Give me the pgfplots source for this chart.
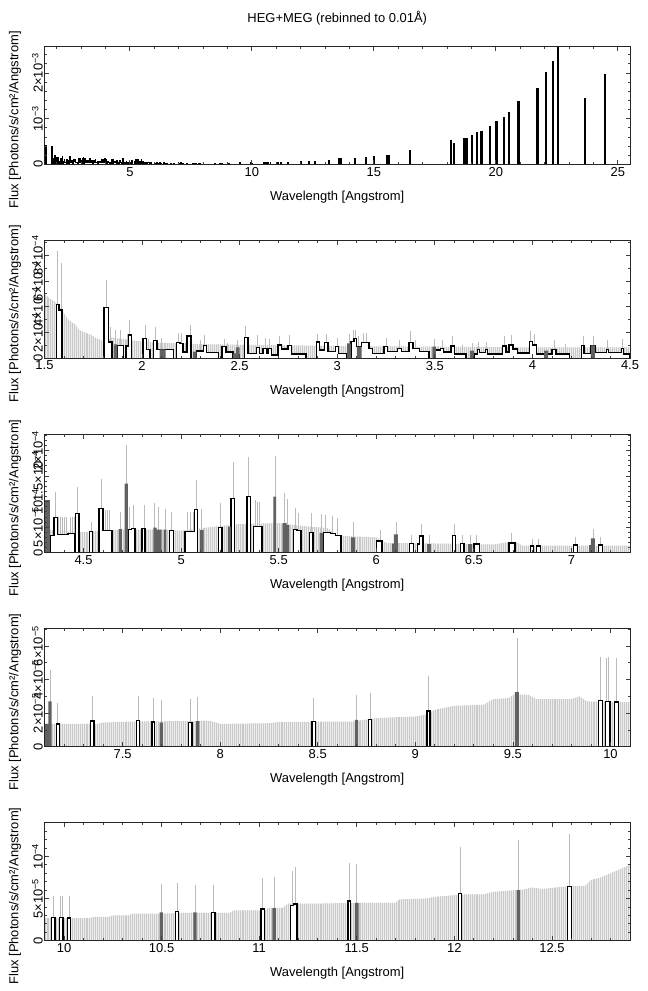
\documentclass[border=0pt]{standalone}
\usepackage{fontspec}
\setmainfont{Liberation Sans}
\usepackage{pgfplots}
\usepackage{pgfplotstable}
\pgfplotsset{compat=1.18}
\usetikzlibrary{patterns.meta}

% ---------- Panel 2 (1.5-4.5 A), values in 1e-5 ----------
\pgfplotstableread{
x y
1.50 0
1.56 42
1.575 37.5
1.59 0
1.805 39.3
1.827 12.7
1.845 0
1.873 10.1
1.904 0
1.918 9.6
1.93 18.1
1.947 0
2.004 15.2
2.024 7
2.04 0
2.06 14
2.077 7
2.16 0
2.178 12.1
2.195 11.6
2.21 5
2.23 17.3
2.25 0
2.28 5.7
2.315 9.8
2.33 4.4
2.39 0
2.41 9.3
2.43 4.9
2.465 0
2.525 16.3
2.543 3.9
2.585 8.3
2.60 3.9
2.62 7.5
2.637 3.5
2.645 7.5
2.662 2.6
2.697 10.3
2.714 7.2
2.748 10
2.765 3.4
2.84 0
2.893 12.6
2.91 6.5
2.936 12.1
2.953 5.2
2.99 9
3.005 3.9
3.05 0
3.07 12.9
3.085 15.5
3.10 9
3.125 12.4
3.163 7.7
3.18 3.9
3.24 9
3.257 5.2
3.31 7.7
3.33 5.2
3.368 12.1
3.389 7.7
3.42 5.2
3.47 0
3.505 6.5
3.53 7.7
3.545 5
3.582 9.5
3.60 3.4
3.66 0
3.70 3.4
3.72 7
3.73 4.4
3.76 7
3.77 3.4
3.848 9.5
3.865 5
3.88 10.3
3.90 7.2
3.925 4
3.985 12.9
4.00 10.3
4.02 3.4
4.10 7
4.12 3.4
4.19 0
4.25 10
4.264 3.9
4.30 10
4.32 4.4
4.38 7
4.39 4.4
4.455 7.7
4.468 3.4
4.50 0
}\ptwoblack
\pgfplotstableread{
x y
1.50 0
1.856 10.9
1.873 0
2.09 7
2.12 0
2.26 5.2
2.28 0
2.465 3.9
2.48 8.5
2.50 0
3.05 11.6
3.07 0
3.10 9
3.125 0
3.488 9
3.505 0
3.68 6
3.70 0
4.06 6
4.08 0
4.30 10
4.32 0
4.50 0
}\ptwodark
\pgfplotstableread{
x y
1.566 83
1.585 74
1.815 61
1.836 24
1.864 22
1.89 22
1.925 19
1.935 30
2.015 26
2.03 15
2.07 24
2.10 16
2.186 20
2.203 20
2.22 12
2.246 26
2.30 14
2.32 18
2.42 15
2.435 12
2.49 14
2.53 25
2.59 18
2.63 16
2.65 15
2.705 17
2.755 18
2.80 9
2.90 19
2.945 19
3.00 16
3.06 19
3.08 22
3.093 22
3.11 17
3.135 20
3.15 20
3.25 16
3.32 14
3.375 21
3.40 14
3.495 15
3.54 14
3.59 17
3.64 10
3.69 12
3.725 13
3.765 13
3.855 17
3.89 18
3.99 21
4.01 19
4.11 14
4.17 11
4.26 17
4.31 17
4.385 14
4.46 15
}\ptwoerr
\pgfplotstableread{
x y
1.50 50
1.53 46
1.555 44
1.60 35
1.62 30.5
1.64 28
1.66 26
1.675 22.5
1.69 21
1.71 20
1.725 19
1.74 18
1.76 16
1.78 14.7
1.80 13.5
1.85 16
1.90 15
1.95 14
2.00 13
2.10 12
2.20 11.5
2.30 11
2.50 10.5
2.80 10
3.00 9.5
3.50 9
4.00 8.5
4.50 8.5
}\ptwoenv

% ---------- Panel 3 (4.3-7.3 A) ----------
\pgfplotstableread{
x y
4.30 0
4.328 3.4
4.348 6.9
4.366 3.6
4.42 3.8
4.456 0
4.46 7.7
4.477 0
4.53 4.2
4.547 0
4.58 8.6
4.60 4.4
4.645 0
4.727 4.5
4.745 4.7
4.764 0
4.80 4.7
4.815 0
4.94 4.3
4.96 0
5.02 4.2
5.068 8.4
5.085 0
5.19 4.9
5.21 0
5.255 10.6
5.273 0
5.337 11
5.354 0
5.37 5.1
5.414 0
5.576 4.5
5.593 4.4
5.615 0
5.658 3.9
5.675 0
5.73 3.9
5.765 3.8
5.79 3.4
5.82 0
6.00 2.3
6.03 0
6.17 1.8
6.19 0
6.21 1.7
6.22 3.3
6.24 0
6.39 3.4
6.405 0
6.43 1.8
6.45 0
6.50 1.7
6.53 0
6.68 1.9
6.71 0
6.79 1.3
6.805 0
6.82 1.3
6.84 0
7.01 1.5
7.03 0
7.14 1.5
7.16 0
7.30 0
}\pthreeblack
\pgfplotstableread{
x y
4.30 10.3
4.328 0
4.68 4.6
4.696 0
4.71 13.5
4.727 0
4.858 4.9
4.875 4.5
4.90 0
4.91 4.5
4.925 0
5.097 4.4
5.115 0
5.24 5.1
5.255 0
5.473 11
5.487 0
5.52 5.8
5.54 5.4
5.555 0
5.71 3.9
5.727 0
5.87 3.0
5.89 0
6.08 1.8
6.09 3.6
6.11 0
6.26 1.7
6.28 0
6.47 1.7
6.49 0
7.09 1.5
7.10 2.8
7.12 0
7.30 0
}\pthreedark
\pgfplotstableread{
x y
4.354 11.9
4.37 7
4.38 7
4.39 7
4.40 7
4.41 7
4.43 7
4.44 7
4.45 7
4.47 12.9
4.54 6.0
4.59 14.5
4.61 8.4
4.62 8.4
4.63 8.4
4.69 8
4.718 21
4.735 9
4.755 9.4
4.81 9.4
4.865 9.7
4.885 9
4.92 8.5
4.95 8
5.03 8
5.045 8
5.06 8
5.078 14.3
5.105 8.5
5.20 9.7
5.25 9.5
5.265 17.7
5.345 18.8
5.38 10.4
5.39 10
5.40 10
5.48 19
5.53 11.6
5.545 10.6
5.585 8.8
5.60 7.8
5.665 7.8
5.72 7.5
5.74 7.3
5.775 7.2
5.80 6.7
5.88 6
6.02 4.4
6.10 6
6.18 3.4
6.23 5.7
6.27 3.4
6.40 5.7
6.44 3.4
6.48 3.4
6.51 3.4
6.69 3.8
6.80 2.6
6.83 2.6
7.02 3
7.11 4.7
7.15 3
}\pthreeerr
\pgfplotstableread{
x y
4.30 4.5
4.50 4.0
4.55 4.2
4.70 4.5
4.90 4.5
5.00 4.3
5.15 5.0
5.30 5.6
5.50 5.8
5.60 5.3
5.75 4.8
5.80 3.3
6.00 3.0
6.05 1.9
6.30 1.8
6.60 1.6
6.67 2.0
6.72 2.0
6.75 1.4
7.30 1.4
}\pthreeenv

% ---------- Panel 4 (7.1-10.1 A) ----------
\pgfplotstableread{
x y
7.10 0
7.16 1.36
7.176 0
7.337 1.54
7.354 0
7.57 1.56
7.586 0
7.65 1.48
7.663 0
7.838 1.44
7.855 0
8.47 1.5
8.487 0
8.76 1.64
8.777 0
9.06 2.14
9.075 0
9.94 2.74
9.96 0
9.975 2.7
9.998 0
10.02 2.66
10.04 0
10.10 0
}\pfourblack
\pgfplotstableread{
x y
7.10 1.36
7.12 2.7
7.137 0
7.69 1.44
7.706 0
7.877 1.52
7.894 0
8.69 1.6
8.707 0
9.51 3.26
9.53 0
10.10 0
}\pfourdark
\pgfplotstableread{
x y
7.128 4.6
7.168 2.6
7.345 3.0
7.578 3.04
7.656 2.92
7.698 2.8
7.846 2.84
7.885 2.96
8.478 2.9
8.698 3.1
8.768 3.2
9.068 4.2
9.52 6.46
9.95 5.36
9.98 5.3
9.99 5.36
10.03 5.28
}\pfourerr
\pgfplotstableread{
x y
7.10 1.36
7.37 1.36
7.40 1.44
7.55 1.50
7.95 1.54
8.00 1.36
8.25 1.40
8.30 1.48
8.68 1.50
8.80 1.70
8.90 1.76
9.00 1.80
9.05 1.90
9.10 2.20
9.20 2.44
9.35 2.50
9.40 2.84
9.48 2.90
9.50 3.10
9.58 3.10
9.62 2.84
9.80 2.84
9.84 3.00
9.88 2.70
10.10 2.66
}\pfourenv

% ---------- Panel 5 (9.9-12.9 A) ----------
\pgfplotstableread{
x y
9.90 0
9.937 2.76
9.954 0
9.978 2.74
9.995 0
10.017 2.7
10.034 0
10.57 3.46
10.586 0
10.757 3.35
10.774 0
11.01 3.78
11.026 0
11.16 4.17
11.176 4.37
11.193 0
11.455 4.7
11.467 0
12.02 5.6
12.035 0
12.58 6.4
12.60 0
12.90 0
}\pfiveblack
\pgfplotstableread{
x y
9.90 0
10.49 3.35
10.506 0
10.663 3.35
10.68 0
11.068 3.86
11.085 0
11.49 4.5
11.51 0
12.32 6.0
12.336 0
12.90 0
}\pfivedark
\pgfplotstableread{
x y
9.945 5.3
9.982 5.3
9.99 5.3
10.026 5.3
10.498 6.7
10.578 6.9
10.67 6.6
10.765 6.6
11.018 7.4
11.076 7.6
11.168 8.3
11.185 8.7
11.461 9.2
11.50 9.05
12.028 11.1
12.328 11.9
12.59 12.7
}\pfiveerr
\pgfplotstableread{
x y
9.90 2.68
10.13 2.68
10.15 2.83
10.23 2.83
10.25 3.0
10.33 3.0
10.35 3.2
10.50 3.2
10.60 3.3
10.85 3.3
10.87 3.6
11.03 3.6
11.05 3.9
11.12 3.9
11.15 4.4
11.30 4.4
11.50 4.5
11.70 4.5
11.72 4.9
11.85 5.0
11.90 5.2
12.05 5.5
12.15 5.5
12.20 5.8
12.35 6.06
12.40 6.3
12.45 6.14
12.60 6.5
12.67 6.5
12.70 7.2
12.75 7.5
12.80 8.0
12.85 8.5
12.90 9.0
}\pfiveenv

% ---------- Panel 1 extra lines (beyond 12.9 A) ----------
\pgfplotstableread{
x y
13.15 9
13.57 14.6
13.66 14.6
14.24 15
14.68 16
14.99 18
15.54 20
15.60 20
16.49 31
18.16 54
18.30 47
18.70 57
18.76 57
18.81 57
19.02 65
19.22 71
19.41 74
19.77 85
20.03 95
20.34 104
20.55 115
20.93 139
20.96 139
21.71 167
22.05 201
22.35 226
22.56 258
23.64 145
24.47 198
}\ponelines

\pgfplotsset{
  spec/.style={
    scale only axis, width=585.5bp, height=118bp,
    anchor=south west,
    axis on top,
    font=\fontsize{13}{15}\selectfont,
    axis line style={black!85, line width=0.9bp},
    tick style={black!75, line width=0.8bp},
    major tick length=4.5bp, minor tick length=2.5bp,
    tick align=inside,
    /pgf/number format/assume math mode=true,
    scaled ticks=false,
    xlabel={Wavelength [Angstrom]},
    ylabel={Flux [Photons/s/cm²/Angstrom]},
    xlabel style={at={(axis description cs:0.5,0)}, anchor=base, yshift=-36bp},
    ylabel style={at={(axis description cs:-0.0505,0.378)}, anchor=center},
    yticklabel style={rotate=90, anchor=south, inner sep=1.5bp},
    xticklabel style={inner sep=2.5bp},
    ymin=0,
  },
  envfill/.style={draw=none, fill=black!7},
  envpat/.style={draw=none, pattern={Lines[angle=90,distance=1.95bp,line width=0.6bp]}, pattern color=black!21},
  errb/.style={ycomb, draw=black!27, line width=0.55bp, mark=none},
  blk/.style={const plot, draw=black, fill=white, line width=1.35bp, mark=none},
  drk/.style={const plot, draw=none, fill=black!62, mark=none},
  one/.style={const plot, draw=black, line width=1.3bp, mark=none},
}

\begin{document}
\begin{tikzpicture}
\path[use as bounding box] (0,0) rectangle (648bp,991bp);
\node[anchor=base, font=\fontsize{13}{15}\selectfont] at (337.25bp,968.5bp) {HEG+MEG (rebinned to 0.01Å)};

% Panel 1
\begin{axis}[spec, at={(44.5bp,826.6bp)}, xmin=1.5, xmax=25.5, ymax=258,
  xtick={5,10,15,20,25}, minor xtick={2,3,...,25},
  ytick={0,100,200}, yticklabels={0,10\textsuperscript{−3},2×10\textsuperscript{−3}},
  minor ytick={20,40,60,80,120,140,160,180,220,240}]
\addplot[one] table {\ptwoblack};
\addplot[one] table {\ptwodark};
\addplot[one] table {\pthreeblack};
\addplot[one] table {\pthreedark};
\addplot[one] table {\pfourblack};
\addplot[one] table {\pfourdark};
\addplot[one] table {\pfiveblack};
\addplot[one] table {\pfivedark};
\addplot[ycomb, draw=black, line width=2.2bp, mark=none] table {\ponelines};
\end{axis}

% Panel 2
\begin{axis}[spec, at={(44.5bp,632.7bp)}, xmin=1.5, xmax=4.5, ymax=91.6,
  xtick={1.5,2,...,4.5}, minor xtick={1.6,1.7,...,4.45},
  ytick={0,20,40,60,80}, yticklabels={0,2×10\textsuperscript{−4},4×10\textsuperscript{−4},6×10\textsuperscript{−4},8×10\textsuperscript{−4}},
  minor ytick={10,30,50,70,90}]
\addplot[envfill] table {\ptwoenv} \closedcycle;
\addplot[envpat] table {\ptwoenv} \closedcycle;
\addplot[errb] table {\ptwoerr};
\addplot[blk] table {\ptwoblack} \closedcycle;
\addplot[drk] table {\ptwodark} \closedcycle;
\end{axis}

% Panel 3
\begin{axis}[spec, at={(44.5bp,438.3bp)}, xmin=4.3, xmax=7.3, ymax=23.1,
  xtick={4.5,5,...,7}, minor xtick={4.4,4.5,...,7.25},
  ytick={0,5,10,15,20}, yticklabels={0,5×10\textsuperscript{−5},10\textsuperscript{−4},1.5×10\textsuperscript{−4},2×10\textsuperscript{−4}},
  minor ytick={1,2,...,23}]
\addplot[envfill] table {\pthreeenv} \closedcycle;
\addplot[envpat] table {\pthreeenv} \closedcycle;
\addplot[errb] table {\pthreeerr};
\addplot[blk] table {\pthreeblack} \closedcycle;
\addplot[drk] table {\pthreedark} \closedcycle;
\end{axis}

% Panel 4
\begin{axis}[spec, at={(44.5bp,244.3bp)}, xmin=7.1, xmax=10.1, ymax=7.04,
  xtick={7.5,8,...,10}, minor xtick={7.2,7.3,...,10.05},
  ytick={0,2,4,6}, yticklabels={0,2×10\textsuperscript{−5},4×10\textsuperscript{−5},6×10\textsuperscript{−5}},
  minor ytick={1,3,5,7}]
\addplot[envfill] table {\pfourenv} \closedcycle;
\addplot[envpat] table {\pfourenv} \closedcycle;
\addplot[errb] table {\pfourerr};
\addplot[blk] table {\pfourblack} \closedcycle;
\addplot[drk] table {\pfourdark} \closedcycle;
\end{axis}

% Panel 5
\begin{axis}[spec, at={(44.5bp,50.3bp)}, xmin=9.9, xmax=12.9, ymax=14,
  xtick={10,10.5,...,12.5}, minor xtick={10,10.1,...,12.85},
  ytick={0,5,10}, yticklabels={0,5×10\textsuperscript{−5},10\textsuperscript{−4}},
  minor ytick={1,2,...,14}]
\addplot[envfill] table {\pfiveenv} \closedcycle;
\addplot[envpat] table {\pfiveenv} \closedcycle;
\addplot[errb] table {\pfiveerr};
\addplot[blk] table {\pfiveblack} \closedcycle;
\addplot[drk] table {\pfivedark} \closedcycle;
\end{axis}
\end{tikzpicture}
\end{document}
